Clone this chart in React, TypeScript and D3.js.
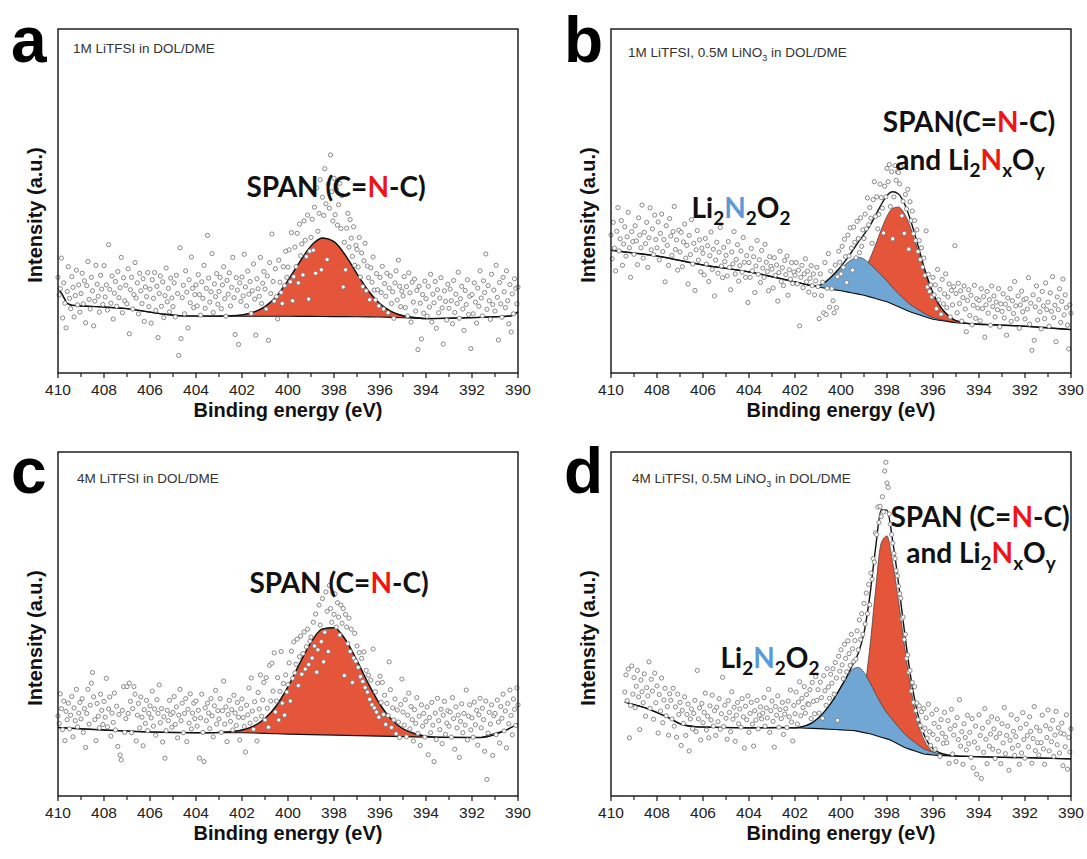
import React from 'react';
import * as d3 from 'd3';

// ---------- shared axis data ----------
const X_MAJOR = [410, 408, 406, 404, 402, 400, 398, 396, 394, 392, 390];
const X_MINOR = [409, 407, 405, 403, 401, 399, 397, 395, 393, 391];
const STEP = 0.05; // eV between recorded points

// ---------- panel a : 1M LiTFSI in DOL/DME ----------
const aStart = 410;
const aPoints = [
  278, 227, 245, 334, 160, 262, 203, 131, 237, 309, 217, 187, 280, 249, 163, 225, 299, 198, 256, 177,
  231, 290, 201, 268, 146, 254, 324, 214, 186, 278, 239, 137, 209, 313, 258, 223, 177, 284, 244, 199,
  312, 221, 256, 183, 373, 243, 203, 282, 157, 232, 266, 194, 295, 219, 248, 336, 175, 277, 210, 255,
  201, 303, 114, 242, 278, 186, 228, 321, 218, 262, 172, 290, 239, 202, 274, 150, 250, 222, 292, 193,
  244, 145, 271, 217, 292, 182, 252, 103, 231, 282, 194, 265, 161, 225, 305, 207, 246, 178, 276, 218,
  193, 262, 163, 284, 231, 51, 364, 100, 219, 255, 172, 297, 235, 131, 271, 204, 337, 246, 190, 228,
  256, 195, 286, 228, 168, 265, 217, 313, 188, 246, 400, 276, 206, 236, 347, 176, 259, 222, 289, 200,
  237, 278, 187, 256, 309, 216, 165, 269, 229, 291, 195, 249, 336, 219, 112, 277, 241, 83, 262, 208,
  279, 224, 345, 250, 195, 296, 229, 266, 173, 239, 317, 215, 110, 274, 245, 223, 336, 202, 261, 295,
  244, 186, 282, 95, 321, 231, 404, 266, 209, 303, 222, 157, 328, 264, 234, 202, 309, 254, 354, 278,
  308, 358, 265, 408, 210, 280, 366, 309, 406, 262, 433, 341, 375, 285, 442, 386, 338, 459, 215, 354,
  394, 447, 357, 482, 290, 538, 412, 464, 562, 300, 511, 458, 594, 492, 330, 549, 479, 634, 527, 442,
  566, 460, 536, 430, 489, 551, 420, 515, 250, 380, 300, 421, 464, 366, 446, 392, 339, 425, 313, 371,
  359, 308, 394, 279, 349, 251, 326, 377, 239, 311, 277, 213, 306, 264, 337, 241, 212, 289, 242, 195,
  278, 234, 310, 186, 260, 223, 290, 175, 247, 282, 202, 236, 159, 262, 297, 212, 328, 252, 193, 238,
  224, 280, 190, 251, 166, 291, 233, 148, 264, 206, 273, 180, 240, 68, 252, 203, 99, 228, 174, 267,
  216, 165, 252, 192, 287, 148, 229, 204, 266, 130, 242, 175, 218, 277, 189, 84, 239, 208, 154, 258,
  188, 244, 210, 143, 269, 176, 229, 202, 293, 159, 216, 252, 186, 124, 240, 199, 271, 170, 223, 71,
  228, 172, 262, 206, 145, 247, 194, 297, 218, 166, 268, 234, 346, 185, 254, 210, 156, 287, 199, 241,
  180, 313, 220, 96, 263, 201, 162, 278, 236, 190, 297, 210, 143, 257, 119, 230, 172, 274, 246, 201,
  250,
];
const aBaseX = [410, 409.85, 409.6, 409.4, 408, 407, 405.5, 404.6, 402, 400, 396, 394, 392, 390.3, 390];
const aBaseY = [246, 232, 203, 197, 192, 187, 172, 166, 165, 165, 163, 158, 161, 166, 178];
const aSpanX = [403, 402.5, 402, 401.5, 401, 400.5, 400, 399.5, 399, 398.5, 398, 397.5, 397, 396.5, 396, 395.5, 395, 394.5, 394];
const aSpanH = [0, 1, 4, 12, 28, 58, 104, 157, 205, 228, 218, 178, 125, 75, 38, 17, 6, 2, 0];

// ---------- panel b : 1M LiTFSI, 0.5M LiNO3 ----------
const bStart = 410;
const bPoints = [
  401, 332, 438, 363, 297, 412, 481, 355, 390, 443, 313, 375, 425, 340, 396, 467, 364, 278, 411, 382,
  345, 428, 384, 315, 451, 401, 364, 488, 334, 409, 376, 438, 307, 393, 480, 358, 419, 344, 459, 388,
  364, 439, 329, 406, 462, 353, 388, 265, 428, 371, 313, 449, 398, 342, 411, 484, 359, 387, 299, 415,
  352, 409, 309, 381, 433, 334, 371, 259, 400, 344, 446, 317, 377, 240, 358, 414, 328, 387, 294, 363,
  348, 285, 391, 317, 370, 266, 341, 410, 301, 360, 224, 328, 380, 290, 351, 423, 311, 277, 365, 324,
  342, 282, 382, 307, 242, 352, 317, 411, 288, 330, 373, 267, 312, 355, 293, 394, 322, 278, 341, 205,
  321, 278, 362, 297, 338, 234, 311, 385, 287, 329, 263, 356, 305, 278, 374, 322, 295, 239, 338, 310,
  302, 247, 335, 284, 314, 209, 292, 354, 266, 306, 254, 327, 286, 340, 226, 300, 273, 321, 260, 294,
  284, 321, 259, 299, 137, 278, 313, 248, 288, 332, 265, 296, 235, 275, 312, 254, 288, 227, 268, 307,
  251, 158, 288, 225, 264, 175, 321, 170, 246, 347, 191, 296, 245, 210, 175, 314, 190, 280, 354, 322,
  288, 368, 307, 389, 338, 263, 401, 340, 422, 363, 299, 424, 380, 335, 441, 391, 350, 451, 368, 416,
  391, 462, 419, 509, 431, 481, 450, 377, 504, 556, 455, 512, 419, 461, 549, 510, 479, 407, 543, 512,
  595, 556, 606, 484, 585, 390, 512, 603, 560, 585, 583, 550, 600, 457, 499, 406, 519, 477, 534, 360,
  498, 443, 471, 405, 443, 385, 416, 353, 385, 330, 364, 308, 334, 284, 413, 250, 287, 237, 256, 221,
  278, 227, 256, 187, 301, 213, 243, 171, 272, 201, 230, 288, 190, 221, 259, 163, 240, 198, 251, 370,
  231, 175, 261, 202, 239, 151, 219, 253, 186, 120, 211, 242, 167, 226, 140, 197, 255, 159, 216, 189,
  211, 152, 245, 187, 222, 104, 198, 237, 174, 213, 139, 253, 193, 224, 163, 206, 184, 245, 134, 201,
  179, 230, 160, 200, 110, 218, 187, 245, 150, 210, 173, 266, 195, 157, 224, 130, 198, 238, 178, 213,
  157, 216, 186, 277, 142, 203, 66, 227, 95, 192, 253, 154, 213, 178, 128, 237, 195, 158, 262, 184,
  206, 136, 233, 179, 280, 161, 197, 91, 221, 184, 245, 147, 208, 273, 169, 227, 190, 139, 70, 198,
  174,
];
const bBaseX = [410, 408, 406, 404, 402, 401.2, 400, 399, 398, 397, 396, 395, 394.6, 392, 390];
const bBaseY = [357, 340, 314, 294, 265, 252, 239, 226, 207, 178, 156, 146, 144, 136, 126];
const bSpanX = [400.25, 400, 399.75, 399.5, 399.25, 399, 398.75, 398.5, 398.25, 398, 397.75, 397.5, 397.25, 397, 396.75, 396.5, 396.25, 396, 395.75, 395.5, 395.25, 395, 394.75, 394.5];
const bSpanH = [3, 6, 13, 25, 44, 72, 110, 156, 205, 249, 279, 290, 279, 249, 205, 156, 110, 72, 44, 25, 13, 6, 3, 0];
const bLiX = [401.5, 401.25, 401, 400.75, 400.5, 400.25, 400, 399.75, 399.5, 399.25, 399, 398.75, 398.5, 398.25, 398, 397.75, 397.5, 397.25, 397, 396.75, 396.5, 396.25, 396, 395.75, 395.5, 395.25, 395];
const bLiH = [0, 1, 4, 14, 30, 47, 65, 83, 98, 107, 105, 96, 85, 73, 60, 48, 38, 29, 22, 16, 11, 7, 5, 3, 2, 1, 0];

// ---------- panel c : 4M LiTFSI ----------
const cStart = 410;
const cPoints = [
  233, 211, 297, 254, 193, 276, 161, 246, 222, 270, 195, 235, 289, 172, 256, 219, 310, 201, 241, 272,
  224, 283, 185, 254, 141, 240, 310, 209, 264, 328, 359, 288, 222, 161, 269, 232, 198, 296, 249, 208,
  275, 229, 342, 201, 253, 288, 174, 241, 214, 299, 192, 261, 144, 237, 119, 105, 249, 318, 185, 225,
  318, 240, 328, 275, 184, 254, 318, 296, 160, 235, 269, 198, 288, 229, 146, 251, 211, 278, 190, 240,
  262, 227, 305, 203, 253, 177, 280, 240, 323, 213, 254, 157, 230, 110, 190, 249, 219, 278, 237, 200,
  243, 289, 208, 259, 169, 235, 310, 219, 270, 184, 240, 283, 158, 252, 212, 297, 195, 241, 270, 225,
  276, 203, 249, 110, 227, 296, 185, 100, 256, 219, 270, 241, 196, 283, 233, 172, 262, 307, 209, 248,
  224, 283, 185, 248, 334, 209, 259, 158, 237, 278, 217, 251, 192, 293, 241, 205, 272, 229, 163, 254,
  282, 228, 202, 128, 264, 236, 314, 212, 343, 247, 194, 274, 223, 160, 301, 253, 352, 232, 279, 330,
  221, 344, 255, 200, 380, 276, 386, 305, 416, 244, 276, 344, 221, 304, 420, 270, 327, 235, 352, 302,
  324, 387, 276, 421, 342, 448, 358, 383, 456, 321, 405, 465, 354, 414, 477, 369, 434, 485, 382, 450,
  462, 401, 505, 436, 529, 360, 425, 555, 497, 449, 574, 390, 476, 593, 537, 420, 612, 545, 505, 590,
  528, 587, 491, 562, 520, 468, 555, 502, 545, 350, 528, 491, 443, 517, 420, 485, 330, 401, 473, 392,
  436, 374, 417, 347, 400, 333, 419, 315, 365, 302, 351, 281, 337, 265, 427, 256, 303, 244, 328, 229,
  348, 272, 330, 237, 293, 208, 269, 234, 390, 309, 199, 256, 221, 282, 181, 250, 215, 170, 266, 340,
  244, 206, 280, 172, 235, 299, 195, 260, 222, 160, 251, 211, 286, 182, 232, 147, 265, 203, 240, 171,
  216, 259, 120, 228, 184, 272, 206, 100, 241, 164, 284, 219, 193, 252, 152, 235, 275, 179, 212, 248,
  203, 244, 171, 286, 225, 136, 259, 198, 235, 112, 217, 268, 184, 240, 206, 308, 163, 232, 265, 192,
  227, 171, 273, 207, 249, 148, 236, 284, 198, 255, 222, 130, 276, 48, 183, 243, 209, 265, 118, 233,
  240, 178, 279, 215, 154, 260, 226, 296, 189, 247, 140, 269, 210, 308, 234, 178, 282, 252, 205, 314,
  265,
];
const cBaseX = [410, 408, 406, 404, 402, 400, 398, 396, 394, 391.6, 390.5, 390];
const cBaseY = [199, 192, 186, 184, 184, 180, 177, 174, 171, 170, 192, 210];
const cSpanX = [403.5, 403, 402.5, 402, 401.5, 401, 400.5, 400, 399.5, 399, 398.5, 398, 397.5, 397, 396.5, 396, 395.5, 395, 394.5, 394, 393.5];
const cSpanH = [0, 1, 3, 8, 20, 43, 82, 138, 205, 268, 308, 312, 278, 218, 151, 92, 49, 23, 10, 3, 0];

// ---------- panel d : 4M LiTFSI, 0.5M LiNO3 ----------
const dStart = 409.4;
const dPoints = [
  302, 352, 277, 369, 169, 263, 378, 296, 344, 257, 319, 365, 288, 193, 337, 303, 271, 355, 232, 315,
  291, 390, 255, 339, 305, 223, 357, 271, 320, 183, 295, 247, 343, 213, 279, 313, 233, 260, 177, 297,
  278, 224, 313, 203, 259, 171, 296, 237, 272, 147, 249, 211, 288, 176, 237, 267, 131, 224, 253, 195,
  240, 278, 187, 365, 224, 256, 163, 269, 213, 243, 299, 192, 232, 169, 262, 221, 293, 203, 248, 176,
  258, 216, 283, 194, 239, 345, 202, 264, 226, 165, 277, 243, 187, 303, 223, 258, 159, 235, 272, 210,
  253, 200, 283, 230, 139, 261, 222, 291, 185, 240, 272, 209, 145, 248, 221, 278, 195, 235, 259, 224,
  241, 286, 203, 256, 227, 310, 185, 248, 276, 217, 142, 260, 235, 291, 200, 251, 225, 272, 179, 238,
  254, 199, 276, 230, 308, 215, 160, 263, 239, 302, 209, 273, 332, 233, 284, 257, 318, 241, 295, 268,
  266, 309, 225, 330, 275, 239, 347, 278, 309, 241, 331, 286, 226, 350, 306, 264, 370, 317, 284, 354,
  328, 370, 296, 388, 343, 220, 406, 363, 425, 381, 341, 441, 400, 361, 451, 414, 380, 470, 428, 391,
  452, 398, 480, 425, 512, 455, 530, 470, 560, 500, 590, 530, 615, 556, 648, 630, 690, 680, 765, 760,
  840, 795, 842, 812, 870, 826, 945, 970, 910, 897, 820, 790, 760, 735, 705, 690, 655, 640, 610, 588,
  575, 515, 520, 455, 470, 400, 410, 360, 365, 305, 330, 272, 318, 248, 270, 222, 262, 205, 245, 190,
  254, 197, 227, 168, 267, 187, 147, 238, 179, 211, 136, 251, 165, 200, 115, 222, 182, 153, 243, 171,
  155, 219, 95, 195, 252, 122, 177, 205, 100, 228, 164, 280, 145, 187, 92, 210, 170, 134, 235, 152,
  185, 112, 225, 82, 157, 203, 63, 139, 236, 176, 51, 197, 127, 254, 165, 94, 215, 145, 180, 230,
  136, 195, 109, 170, 224, 130, 182, 94, 210, 154, 257, 123, 176, 203, 75, 162, 236, 139, 188, 118,
  173, 223, 147, 92, 197, 125, 242, 164, 110, 209, 176, 143, 230, 188, 95, 167, 260, 132, 200, 155,
  119, 189, 155, 235, 137, 92, 204, 170, 250, 131, 195, 158, 220, 115, 177, 246, 149, 198, 125, 183,
  212, 88, 180, 143, 236, 78, 170, 128, 195,
];
const dBaseX = [409.4, 408.5, 407.6, 406.9, 406.25, 404, 402.5, 401.9, 401, 399.4, 398.7, 397.9, 397.2, 396.4, 395.8, 394.9, 393.4, 391.8, 390];
const dBaseY = [273, 256, 231, 207, 201, 198, 199, 198, 196, 190, 180, 164, 140, 122, 118, 116, 113, 111, 108];
const dSpanX = [399.75, 399.5, 399.25, 399, 398.75, 398.5, 398.25, 398, 397.75, 397.5, 397.25, 397, 396.75, 396.5, 396.25, 396, 395.75, 395.5, 395.25];
const dSpanH = [0, 12, 41, 115, 249, 421, 565, 590, 519, 418, 301, 193, 111, 57, 26, 10, 4, 1, 0];
const dLiX = [402, 401.75, 401.5, 401.25, 401, 400.75, 400.5, 400.25, 400, 399.75, 399.5, 399.25, 399, 398.75, 398.5, 398.25, 398, 397.75, 397.5, 397.25, 397, 396.75, 396.5, 396.25, 396, 395.75, 395.5, 395.25, 395];
const dLiH = [0, 3, 8, 17, 30, 48, 70, 96, 125, 155, 178, 186, 175, 150, 122, 96, 75, 62, 50, 40, 31, 24, 17, 12, 8, 5, 3, 1, 0];

// ---------- styling ----------
const W = 460;
const H = 344;
const RED = '#E4553A';
const BLUE = '#6FA6D4';
const N_RED = '#F01414';
const N_BLUE = '#5B9BD5';
const SANS = "Arial, 'Liberation Sans', Helvetica, sans-serif";
const ANNO = "Lato, 'Open Sans', sans-serif";

type Comp = { xs: number[]; hs: number[]; color: string };
type PanelDef = {
  letter: string;
  left: number;
  top: number;
  start: number;
  points: number[];
  baseX: number[];
  baseY: number[];
  comps: Comp[];
};

const panels: PanelDef[] = [
  { letter: 'a', left: 58, top: 29, start: aStart, points: aPoints, baseX: aBaseX, baseY: aBaseY,
    comps: [{ xs: aSpanX, hs: aSpanH, color: RED }] },
  { letter: 'b', left: 611, top: 29, start: bStart, points: bPoints, baseX: bBaseX, baseY: bBaseY,
    comps: [{ xs: bSpanX, hs: bSpanH, color: RED }, { xs: bLiX, hs: bLiH, color: BLUE }] },
  { letter: 'c', left: 58, top: 452, start: cStart, points: cPoints, baseX: cBaseX, baseY: cBaseY,
    comps: [{ xs: cSpanX, hs: cSpanH, color: RED }] },
  { letter: 'd', left: 611, top: 452, start: dStart, points: dPoints, baseX: dBaseX, baseY: dBaseY,
    comps: [{ xs: dSpanX, hs: dSpanH, color: RED }, { xs: dLiX, hs: dLiH, color: BLUE }] },
];

const key = (v: number) => v.toFixed(3);

function Panel({ p }: { p: PanelDef }) {
  const x = d3.scaleLinear().domain([410, 390]).range([p.left, p.left + W]);
  const y = d3.scaleLinear().domain([0, 1000]).range([p.top + H, p.top]);
  const pairs = p.baseX.map((v, i) => [v, p.baseY[i]]).sort((a, b) => a[0] - b[0]);
  const base = d3.scaleLinear().domain(pairs.map((d) => d[0])).range(pairs.map((d) => d[1])).clamp(true);

  const ranges = p.comps.map((c) => [d3.min(c.xs) as number, d3.max(c.xs) as number]);
  const maps = p.comps.map((c) => new Map(c.xs.map((v, i) => [key(v), c.hs[i]])));
  const grid = new Map<string, number>();
  p.comps.forEach((c) => c.xs.forEach((v) => grid.set(key(v), v)));
  p.baseX.forEach((v) => {
    if (!ranges.some(([lo, hi]) => v > lo && v < hi)) grid.set(key(v), v);
  });
  const gx = Array.from(grid.values()).sort((a, b) => b - a);
  const env = gx.map((v) => [v, base(v) + d3.sum(maps, (m) => m.get(key(v)) ?? 0)] as [number, number]);
  const baseGrid = Array.from(new Set([...p.baseX, ...gx])).sort((a, b) => b - a);

  const line = d3.line<[number, number]>().x((d) => x(d[0])).y((d) => y(d[1]));
  const envLine = d3.line<[number, number]>().x((d) => x(d[0])).y((d) => y(d[1])).curve(d3.curveMonotoneX);

  const pts = p.points.map((v, i) => [p.start - i * STEP, v] as [number, number]);
  const bottom = p.top + H;

  return (
    <g>
      {p.comps.map((c, ci) => {
        const hm = maps[ci];
        const top = (v: number) => y(base(v) + (hm.get(key(v)) ?? 0));
        const ar = d3
          .area<number>()
          .x((v) => x(v))
          .y0((v) => y(base(v)))
          .y1(top)
          .curve(d3.curveMonotoneX);
        const tl = d3.line<number>().x((v) => x(v)).y(top).curve(d3.curveMonotoneX);
        return (
          <g key={ci}>
            <path d={ar(c.xs) ?? ''} fill={c.color} stroke="none" />
            <path d={tl(c.xs) ?? ''} fill="none" stroke="#3a3a3a" strokeWidth={0.7} />
          </g>
        );
      })}
      <path d={line(baseGrid.map((v) => [v, base(v)] as [number, number])) ?? ''} fill="none" stroke="#111" strokeWidth={1.1} />
      <path d={envLine(env) ?? ''} fill="none" stroke="#111" strokeWidth={1.4} />
      {pts.map((d, i) => (
        <circle key={i} cx={x(d[0])} cy={y(d[1])} r={2.1} fill="#fff" stroke="#7c7c7c" strokeWidth={0.9} />
      ))}
      <rect x={p.left} y={p.top} width={W} height={H} fill="none" stroke="#111" strokeWidth={1.4} />
      {X_MAJOR.map((t) => (
        <g key={'M' + t}>
          <line x1={x(t)} x2={x(t)} y1={bottom} y2={bottom + 5} stroke="#111" strokeWidth={1.2} />
          <text x={x(t)} y={bottom + 22} textAnchor="middle" fontFamily={SANS} fontSize={15.5} fill="#222">
            {t}
          </text>
        </g>
      ))}
      {X_MINOR.map((t) => (
        <line key={'m' + t} x1={x(t)} x2={x(t)} y1={bottom} y2={bottom + 4} stroke="#111" strokeWidth={1.1} />
      ))}
      <text x={p.left + W / 2} y={bottom + 44} textAnchor="middle" fontFamily={SANS} fontWeight="bold" fontSize={20} fill="#111">
        Binding energy (eV)
      </text>
      <text
        transform={`translate(${p.left - 16},${p.top + H / 2 + 14}) rotate(-90)`}
        textAnchor="middle"
        fontFamily={SANS}
        fontWeight="bold"
        fontSize={20}
        fill="#111"
      >
        Intensity (a.u.)
      </text>
      <text x={p.left - 47} y={p.top + (p.top < 100 ? 33 : 41)} fontFamily={SANS} fontWeight="bold" fontSize={64} fill="#000">
        {p.letter}
      </text>
    </g>
  );
}

function Species({ x, y }: { x: number; y: number }) {
  // "and Li2NxOy"
  return (
    <text x={x} y={y} textAnchor="middle" fontFamily={ANNO} fontWeight="bold" fontSize={28} fill="#111">
      <tspan>{'and Li'}</tspan>
      <tspan fontSize={19} dy={7}>2</tspan>
      <tspan fill={N_RED} dy={-7}>N</tspan>
      <tspan fontSize={19} dy={7}>x</tspan>
      <tspan dy={-7}>O</tspan>
      <tspan fontSize={19} dy={7}>y</tspan>
    </text>
  );
}

function Li2N2O2({ x, y }: { x: number; y: number }) {
  return (
    <text x={x} y={y} textAnchor="middle" fontFamily={ANNO} fontWeight="bold" fontSize={28} fill="#111">
      <tspan>Li</tspan>
      <tspan fontSize={19} dy={7}>2</tspan>
      <tspan fill={N_BLUE} dy={-7}>N</tspan>
      <tspan fontSize={19} dy={7}>2</tspan>
      <tspan dy={-7}>O</tspan>
      <tspan fontSize={19} dy={7}>2</tspan>
    </text>
  );
}

function Span({ x, y, gap }: { x: number; y: number; gap: boolean }) {
  return (
    <text x={x} y={y} textAnchor="middle" fontFamily={ANNO} fontWeight="bold" fontSize={28} fill="#111">
      <tspan>{gap ? 'SPAN (C=' : 'SPAN(C='}</tspan>
      <tspan fill={N_RED}>N</tspan>
      <tspan>-C)</tspan>
    </text>
  );
}

function Title({ x, y, lead }: { x: number; y: number; lead: string }) {
  return (
    <text x={x} y={y} fontFamily={SANS} fontSize={13.5} fill="#333">
      <tspan>{lead + ', 0.5M LiNO'}</tspan>
      <tspan fontSize={9} dy={4}>3</tspan>
      <tspan dy={-4}>{' in DOL/DME'}</tspan>
    </text>
  );
}

export default function App() {
  return (
    <svg width={1087} height={859} style={{ position: 'absolute', left: 0, top: 0, background: '#fff' }}>
      <rect x={0} y={0} width={1087} height={859} fill="#fff" />
      {panels.map((p) => (
        <Panel key={p.letter} p={p} />
      ))}
      <text x={73} y={53} fontFamily={SANS} fontSize={13.5} fill="#333">1M LiTFSI in DOL/DME</text>
      <Title x={628} y={57} lead="1M LiTFSI" />
      <text x={77} y={483} fontFamily={SANS} fontSize={13.5} fill="#333">4M LiTFSI in DOL/DME</text>
      <Title x={632} y={483} lead="4M LiTFSI" />

      <Span x={336} y={197} gap={true} />
      <Span x={339} y={593} gap={true} />

      <Span x={969} y={132} gap={false} />
      <Species x={970} y={170} />
      <Li2N2O2 x={741} y={218} />

      <Span x={980} y={527} gap={true} />
      <Species x={981} y={563} />
      <Li2N2O2 x={770} y={668} />
    </svg>
  );
}
